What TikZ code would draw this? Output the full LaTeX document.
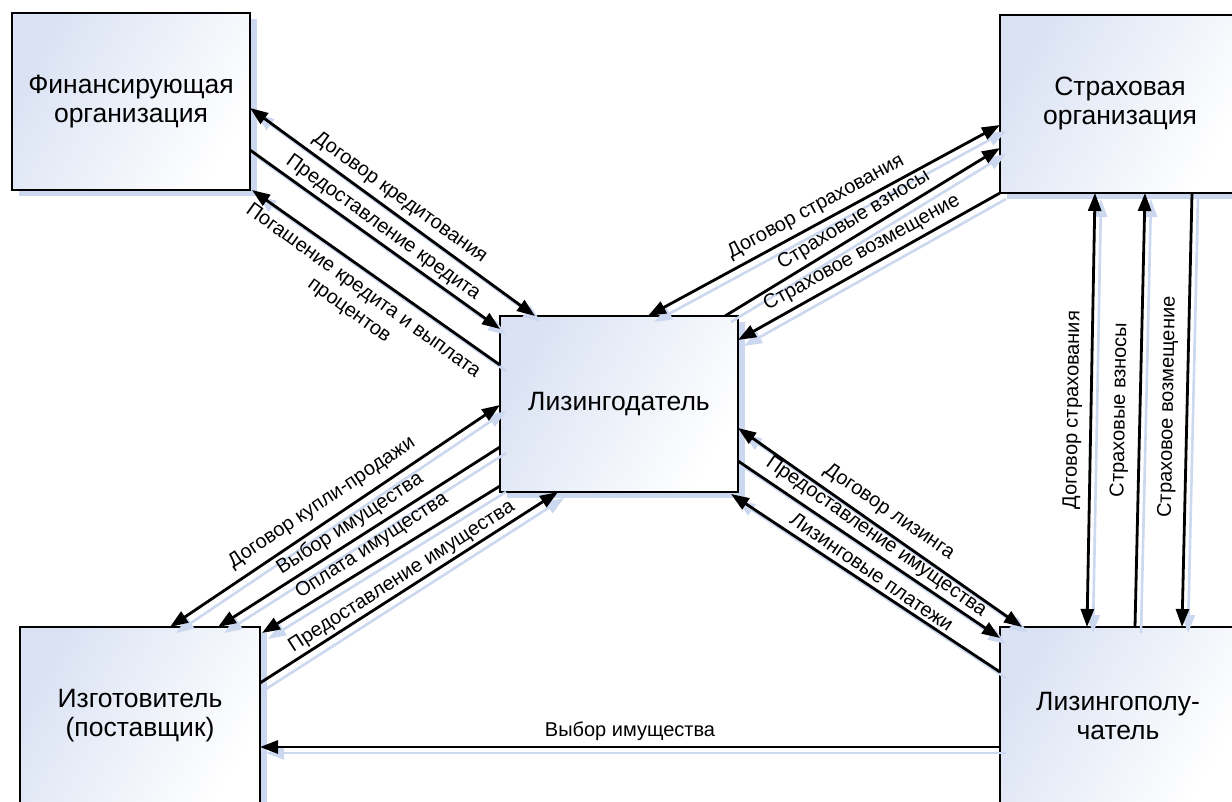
\documentclass[tikz,border=0pt]{standalone}
\usepackage{fontspec}
\setmainfont{Liberation Sans}
\usetikzlibrary{arrows.meta,calc,shadows}
\definecolor{boxblue}{RGB}{218,226,243}
\definecolor{shblue}{RGB}{204,216,240}
\begin{document}
\begin{tikzpicture}[x=1pt,y=-1pt,
  >={Triangle[length=18pt,width=13pt]},
  box/.style={rectangle, draw=black, line width=2.8pt, outer sep=0pt, inner sep=0pt,
    top color=boxblue, bottom color=white, shading angle=60,
    align=center, font=\fontsize{26.5}{29}\selectfont,
    drop shadow={shadow xshift=7pt, shadow yshift=-6pt, fill=shblue, opacity=1}},
  conn/.style={line width=2.8pt,
    preaction={draw=shblue, line width=2.6pt, transform canvas={shift={(6pt,-6pt)}}}},
  lbl/.style={inner sep=0pt, align=center, font=\fontsize{20}{24}\selectfont}]
\clip (0,0) rectangle (1232,802);
\fill[white] (0,0) rectangle (1232,802);

% boxes
\node[box, minimum width=238pt, minimum height=177pt, anchor=north west] (fin) at (12,13) {Финансирующая\\организация};
\node[box, minimum width=240pt, minimum height=178pt, anchor=north west] (str) at (1000,15) {Страховая\\организация};
\node[box, minimum width=238pt, minimum height=176pt, anchor=north west] (liz) at (500,316) {Лизингодатель};
\node[box, minimum width=240pt, minimum height=178pt, anchor=north west] (izg) at (20,627) {Изготовитель\\(поставщик)};
\node[box, minimum width=236pt, minimum height=178pt, anchor=north west] (lp) at (1000,627) {Лизингополу-\\чатель};

% Финансирующая <-> Лизингодатель
\draw[conn,<->] ($(fin.north east)+(0,95)$) -- ($(liz.north west)+(35,0)$);
\draw[conn,->] ($(fin.north east)+(0,137)$) -- ($(liz.north west)+(0,13)$);
\draw[conn,->] ($(liz.north west)+(0,49)$) -- ($(fin.south east)+(2,0)$);
\node[lbl, rotate=-35.8] (f1) at (400,198) {Договор кредитования};
\node[lbl, rotate=-35.8] (f2) at (383,228) {Предоставление кредита};
\node[lbl, rotate=-35.8] (f3) at (356,301) {Погашение кредита и выплата\\процентов};

% Страховая <-> Лизингодатель
\draw[conn,<->] ($(liz.north west)+(148,0)$) -- ($(str.north west)+(0,110)$);
\draw[conn,->] ($(liz.north west)+(225,0)$) -- ($(str.north west)+(0,133)$);
\draw[conn,->] (str.south west) -- ($(liz.north east)+(0,24)$);
\node[lbl, rotate=28.5] (s1) at (816,207) {Договор страхования};
\node[lbl, rotate=31.5] (s2) at (854,220) {Страховые взносы};
\node[lbl, rotate=29] (s3) at (862,253) {Страховое возмещение};

% Изготовитель <-> Лизингодатель
\draw[conn,<->] ($(izg.north west)+(150,0)$) -- ($(liz.north west)+(0,89)$);
\draw[conn,->] ($(liz.north west)+(0,131)$) -- ($(izg.north west)+(198,0)$);
\draw[conn,->] ($(liz.north west)+(0,170)$) -- ($(izg.north east)+(2,6)$);
\draw[conn,->] ($(izg.north east)+(0,56)$) -- ($(liz.south west)+(58,0)$);
\node[lbl, rotate=33.9] (i1) at (322,503) {Договор купли-продажи};
\node[lbl, rotate=33.2] (i2) at (350,524) {Выбор имущества};
\node[lbl, rotate=33.2] (i3) at (372,546) {Оплата имущества};
\node[lbl, rotate=32.7] (i4) at (402,577) {Предоставление имущества};

% Лизингополучатель <-> Лизингодатель
\draw[conn,<->] ($(liz.north east)+(0,112)$) -- ($(lp.north west)+(22,0)$);
\draw[conn,->] ($(liz.north east)+(0,145)$) -- ($(lp.north west)+(0,11)$);
\draw[conn,->] ($(lp.north west)+(0,45)$) -- ($(liz.south east)+(-7,2)$);
\node[lbl, rotate=-34.5] (l1) at (889,512) {Договор лизинга};
\node[lbl, rotate=-35] (l2) at (876,537) {Предоставление имущества};
\node[lbl, rotate=-34.5] (l3) at (872,572) {Лизинговые платежи};

% Страховая <-> Лизингополучатель
\draw[conn,<->] ($(str.south west)+(95,0)$) -- ($(lp.north west)+(87,0)$);
\draw[conn,->] ($(lp.north west)+(135,0)$) -- ($(str.south west)+(145,0)$);
\draw[conn,->] ($(str.south west)+(192,0)$) -- ($(lp.north west)+(182,0)$);
\node[lbl, rotate=89] (v1) at (1073,410) {Договор страхования};
\node[lbl, rotate=89] (v2) at (1120,410) {Страховые взносы};
\node[lbl, rotate=89] (v3) at (1168,407) {Страховое возмещение};

% Лизингополучатель -> Изготовитель
\draw[conn,->] ($(lp.north west)+(0,120)$) -- ($(izg.north east)+(0,120)$);
\node[lbl] (b1) at (630,731) {Выбор имущества};
\end{tikzpicture}
\end{document}
